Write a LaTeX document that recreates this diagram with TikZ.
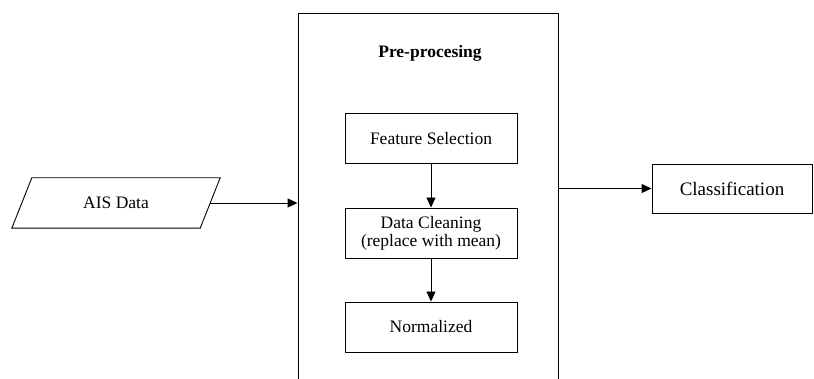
\documentclass[tikz,border=0pt]{standalone}
\usepackage{fontspec}
\setmainfont{Liberation Serif}
\usetikzlibrary{arrows.meta}
\begin{document}
\begin{tikzpicture}[x=1pt,y=-1pt,
  every node/.style={font=\fontsize{17.5}{18}\selectfont},
  box/.style={draw,line width=0.9pt,minimum width=172pt,minimum height=50pt,inner sep=0pt,align=center},
  arr/.style={line width=0.9pt,-{Triangle[length=10pt,width=9pt]}}]
\useasboundingbox (0,0) rectangle (814,379);
\clip (0,0) rectangle (814,379);
\node[draw,line width=0.9pt,minimum width=260pt,minimum height=420pt,anchor=north,inner sep=0pt] (pre) at (428,13) {};
\node[font=\fontsize{17.5}{18}\selectfont\bfseries] (title) at (430,53) {Pre-procesing};
\node[box] (fs) at (431,138.5) {Feature Selection};
\node[box] (dc) at (431,233) {Data Cleaning\\(replace with mean)};
\node[box] (nm) at (431,327) {Normalized};
\node[minimum width=188pt,minimum height=50pt,inner sep=0pt] (ais) at (116,203) {AIS Data};
\draw[line width=0.9pt] ([xshift=-10pt]ais.south west) -- ([xshift=10pt]ais.north west)
  -- ([xshift=10pt]ais.north east) -- ([xshift=-10pt]ais.south east) -- cycle;
\node[box,minimum width=160pt,minimum height=49pt,font=\fontsize{19}{20}\selectfont] (cls) at (732,188.5) {Classification};
\draw[arr] (fs) -- (dc);
\draw[arr] (dc) -- (nm);
\draw[arr] (ais.east) -- (ais.east -| pre.west);
\draw[arr] (cls.west -| pre.east) -- (cls.west);
\end{tikzpicture}
\end{document}
